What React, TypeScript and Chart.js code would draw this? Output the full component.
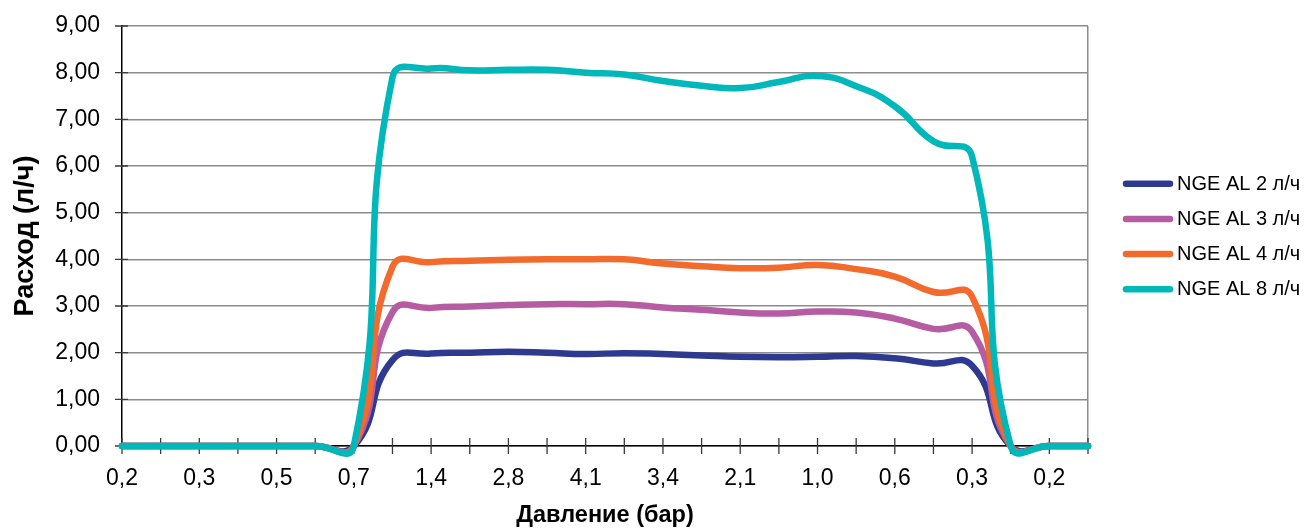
import React, { useEffect, useRef } from "react";
import { Chart, registerables } from "chart.js";

Chart.register(...registerables);

// Category axis: pressure (bar); labels shown on every second category
const pressureLabels = [
  "0,2", "", "0,3", "", "0,5", "", "0,7", "", "1,4", "", "2,8", "", "4,1",
  "", "3,4", "", "2,1", "", "1,0", "", "0,6", "", "0,3", "", "0,2", "",
];

const seriesNames = ["NGE AL 2 л/ч", "NGE AL 3 л/ч", "NGE AL 4 л/ч", "NGE AL 8 л/ч"];

const flow2 = [0, 0, 0, 0, 0, 0, 0, 1.84, 1.98, 2.0, 2.02, 2.0, 1.97, 1.99, 1.97, 1.94, 1.91, 1.9, 1.91, 1.93, 1.88, 1.77, 1.72, 0, 0, 0];
const flow3 = [0, 0, 0, 0, 0, 0, 0, 2.87, 2.96, 2.99, 3.02, 3.04, 3.04, 3.04, 2.97, 2.92, 2.86, 2.84, 2.88, 2.86, 2.73, 2.51, 2.45, 0, 0, 0];
const flow4 = [0, 0, 0, 0, 0, 0, 0, 3.84, 3.94, 3.97, 3.99, 4.0, 4.0, 4.0, 3.91, 3.85, 3.81, 3.82, 3.88, 3.79, 3.63, 3.3, 3.2, 0, 0, 0];
const flow8 = [0, 0, 0, 0, 0, 0, 0, 7.9, 8.09, 8.05, 8.06, 8.06, 8.0, 7.96, 7.82, 7.72, 7.67, 7.8, 7.93, 7.71, 7.28, 6.53, 6.2, 0, 0, 0];

const seriesColors = ["#2E3990", "#B65CA2", "#F26A2C", "#00B7BA"];

const yMin = 0;
const yMax = 9;
const yStep = 1;

const xTitle = "Давление (бар)";
const yTitle = "Расход (л/ч)";

const FONT = '"Liberation Sans", Arial, Helvetica, sans-serif';
const GRID = "#8c8c8c";

export default function App() {
  const ref = useRef<HTMLCanvasElement>(null);

  useEffect(() => {
    if (!ref.current) return;

    const crossTicks = {
      id: "crossTicks",
      beforeDatasetsDraw(chart: any) {
        const { ctx, chartArea, scales } = chart;
        const xs = scales.x;
        const ys = scales.y;
        ctx.save();
        ctx.strokeStyle = "#3a3a3a";
        ctx.lineWidth = 1.3;
        ctx.beginPath();
        for (let i = 0; i < xs.ticks.length; i++) {
          const px = xs.getPixelForTick(i);
          ctx.moveTo(px, chartArea.bottom - 8);
          ctx.lineTo(px, chartArea.bottom + 8);
        }
        for (let i = 0; i < ys.ticks.length; i++) {
          const py = ys.getPixelForTick(i);
          ctx.moveTo(chartArea.left - 7, py);
          ctx.lineTo(chartArea.left + 6, py);
        }
        ctx.stroke();
        ctx.restore();
      },
    };

    const sideLegend = {
      id: "sideLegend",
      afterDraw(chart: any) {
        const { ctx, chartArea } = chart;
        const dsets = chart.data.datasets;
        const n = dsets.length;
        const rowH = 35.2;
        const cy = (chartArea.top + chartArea.bottom) / 2 + 0.5;
        ctx.save();
        ctx.font = `20px ${FONT}`;
        ctx.textBaseline = "middle";
        ctx.textAlign = "left";
        ctx.fillStyle = "#000";
        dsets.forEach((ds: any, i: number) => {
          const yy = cy + (i - (n - 1) / 2) * rowH;
          const x0 = chartArea.right + 38;
          ctx.strokeStyle = ds.borderColor;
          ctx.lineWidth = 6.5;
          ctx.lineCap = "round";
          ctx.beginPath();
          ctx.moveTo(x0, yy);
          ctx.lineTo(x0 + 44, yy);
          ctx.stroke();
          ctx.fillText(ds.label, x0 + 51, yy + 0.5);
        });
        ctx.restore();
      },
    };

    const seriesData = [flow2, flow3, flow4, flow8];

    const chart = new Chart(ref.current, {
      type: "line",
      data: {
        labels: pressureLabels,
        datasets: seriesData.map((d, i) => ({
          label: seriesNames[i],
          data: d,
          borderColor: seriesColors[i],
          backgroundColor: seriesColors[i],
          borderWidth: 6.5,
          tension: 0.5,
          pointRadius: 0,
          pointHoverRadius: 0,
          fill: false,
          borderCapStyle: "round",
          borderJoinStyle: "round",
          clip: false,
          order: seriesData.length - 1 - i,
        })) as any,
      },
      options: {
        animation: false,
        responsive: false,
        layout: { padding: { top: 26, right: 221, bottom: 0, left: 0 } },
        elements: { line: { capBezierPoints: false } },
        plugins: {
          legend: { display: false },
          tooltip: { enabled: false },
        },
        scales: {
          x: {
            type: "category",
            offset: false,
            grid: {
              color: (c: any) => (c.index === pressureLabels.length - 1 ? GRID : "rgba(0,0,0,0)"),
              lineWidth: 1.5,
              drawTicks: false,
            },
            border: { color: "#000", width: 1.5 },
            ticks: {
              autoSkip: false,
              maxRotation: 0,
              minRotation: 0,
              padding: 19,
              color: "#000",
              font: { family: FONT, size: 23 },
            },
            title: {
              display: true,
              text: xTitle,
              color: "#000",
              font: { family: FONT, size: 23.5, weight: "bold" },
              padding: { top: 0, bottom: 2.5 },
            },
            afterFit: (s: any) => {
              s.height = 86;
              s.paddingLeft = 0;
              s.paddingRight = 0;
            },
          },
          y: {
            min: yMin,
            max: yMax,
            ticks: {
              stepSize: yStep,
              padding: 22,
              color: "#000",
              font: { family: FONT, size: 23 },
              callback: (v: any) => Number(v).toFixed(2).replace(".", ","),
            },
            grid: { color: GRID, lineWidth: 1.5, drawTicks: false },
            border: { color: "#000", width: 1.5 },
            title: {
              display: true,
              text: yTitle,
              color: "#000",
              font: { family: FONT, size: 27, weight: "bold" },
              padding: { top: 9, bottom: 0 },
            },
            afterFit: (s: any) => {
              s.width = 122;
              s.paddingTop = 0;
              s.paddingBottom = 0;
            },
          },
        },
      },
      plugins: [crossTicks, sideLegend],
    });

    return () => chart.destroy();
  }, []);

  return (
    <div style={{ position: "fixed", left: 0, top: 0, width: 1309, height: 532, background: "#fff" }}>
      <canvas ref={ref} width={1309} height={532} style={{ display: "block" }} />
    </div>
  );
}
